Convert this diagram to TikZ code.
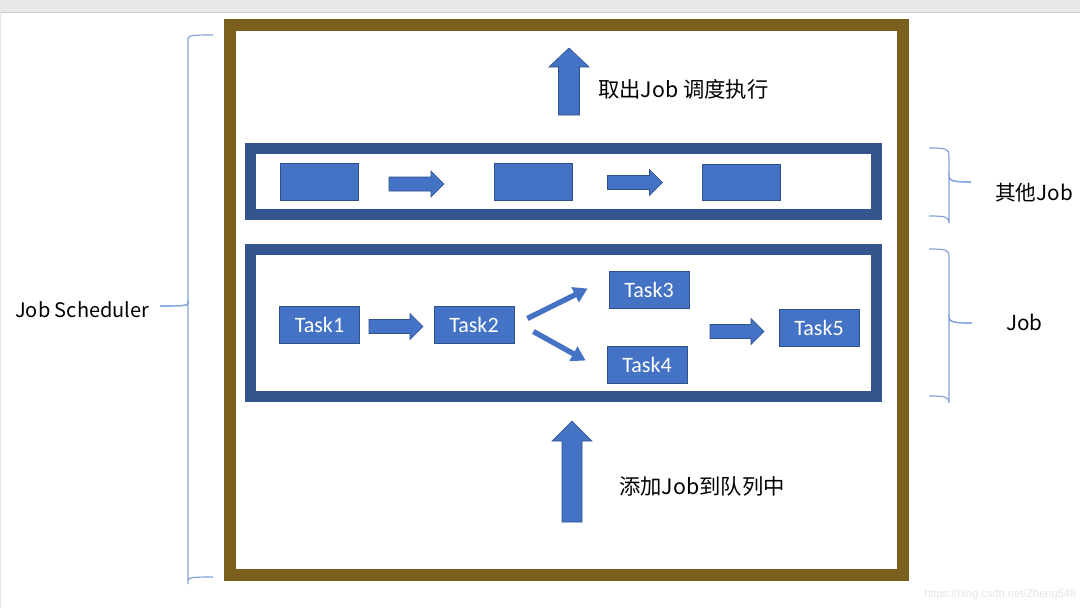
\documentclass[tikz,border=0pt]{standalone}
\usepackage{fontspec}
\setmainfont{Noto Sans CJK SC}
\newfontfamily\taskfont{Carlito}
\newfontfamily\wmfont{Liberation Sans}
\usetikzlibrary{arrows.meta,calc}
\definecolor{brownframe}{RGB}{124,95,31}
\definecolor{darkframe}{RGB}{52,84,142}
\definecolor{boxfill}{RGB}{68,114,196}
\definecolor{boxline}{RGB}{47,82,143}
\definecolor{bracecol}{RGB}{133,163,218}
\definecolor{topgray}{RGB}{232,232,232}
\newcommand\hbarrow[3]{%
  \filldraw[arrowshape] (#1,#3-7) -- (#2-13,#3-7) -- (#2-13,#3-13) -- (#2,#3)
    -- (#2-13,#3+13) -- (#2-13,#3+7) -- (#1,#3+7) -- cycle;}
\newcommand\vbarrow[6]{% cx, ytip, ybottom, shaft half, head half, head len
  \filldraw[arrowshape] (#1,#2) -- (#1+#5,#2+#6) -- (#1+#4,#2+#6) -- (#1+#4,#3)
    -- (#1-#4,#3) -- (#1-#4,#2+#6) -- (#1-#5,#2+#6) -- cycle;}
\newcommand\halfbrace[5]{% xend, xvert, xtip, yend, ymid
  \draw[bracestyle] (#1,#4) .. controls (#2-3,#4) and (#2,#4+1) .. (#2,#4+7)
    -- (#2,#5-6) .. controls (#2,#5-1) and (#2+5,#5) .. (#3,#5);}
\begin{document}
\begin{tikzpicture}[x=0.75pt,y=-0.75pt,
  arrowshape/.style={fill=boxfill,draw=boxline,line width=0.5pt,line join=miter},
  bracestyle/.style={draw=bracecol,line width=0.9pt},
  blk/.style={rectangle,fill=boxfill,draw=boxline,line width=0.6pt,inner sep=0pt},
  emptybox/.style={blk,minimum width=58.5pt,minimum height=27.5pt},
  taskbox/.style={blk,minimum width=60pt,minimum height=27.75pt,text=white,font=\taskfont\fontsize{16.5pt}{18pt}\selectfont},
  rowframe/.style={draw=darkframe,line width=8.25pt},
  diag/.style={draw=boxfill,line width=4pt,-{Triangle[width=12pt,length=10.5pt]}},
  lbl/.style={anchor=west,inner sep=0pt,font=\fontsize{16pt}{18pt}\selectfont}]
\useasboundingbox (0,0) rectangle (1080,608);
\fill[topgray] (0,0) rectangle (1080,608);
\fill[white] (1,12) rectangle (1080,608);
\draw[black!20,line width=0.6pt] (1,12) -- (1080,12);
% outer frame
\draw[brownframe,line width=9pt] (230,25) rectangle (902.5,574.5);
% row frames
\draw[rowframe] (250.5,148.5) rectangle (876.5,214.5);
\draw[rowframe] (250.5,249.5) rectangle (876.5,396);
% row 1 boxes
\node[emptybox] (b1) at (319.5,182) {};
\node[emptybox] (b2) at (533.5,182) {};
\node[emptybox] (b3) at (741,182.5) {};
\hbarrow{389}{444}{184}
\hbarrow{607.5}{662.5}{182.5}
% tasks
\node[taskbox] (t1) at (319.5,324.5) {Task1};
\node[taskbox] (t2) at (474,324.5) {Task2};
\node[taskbox] (t3) at (649,289.5) {Task3};
\node[taskbox] (t4) at (647,364.5) {Task4};
\node[taskbox] (t5) at (819,328) {Task5};
\hbarrow{369}{423}{326.5}
\hbarrow{710}{764}{331.5}
\draw[diag] ($(t2.east)+(13,-6)$) -- ($(t3.west)+(-21,-1)$);
\draw[diag] ($(t2.east)+(19,7)$) -- ($(t4.west)+(-21,-4)$);
% vertical arrows
\vbarrow{569}{48}{115}{10.5}{20}{19}
\vbarrow{572}{421}{522}{10}{20}{20}
\node[lbl] (out) at (598,89) {取出Job 调度执行};
\node[lbl] (in) at (619,486) {添加Job到队列中};
% braces
\halfbrace{929}{949}{971}{148}{182}
\halfbrace{929}{949}{971}{216}{182}
\halfbrace{929}{949}{972}{249}{323}
\halfbrace{929}{949}{972}{396}{323}
\halfbrace{213}{188}{160}{35}{306}
\halfbrace{213}{188}{160}{577}{306}
\node[lbl,font=\fontsize{15pt}{18pt}\selectfont] (sched) at (15,310) {Job Scheduler};
\node[lbl,font=\fontsize{15.5pt}{18pt}\selectfont] (other) at (995,193) {其他Job};
\node[lbl,font=\fontsize{15.5pt}{18pt}\selectfont] (job) at (1006,322) {Job};
\node[anchor=west,inner sep=0pt,text=black!10,font=\wmfont\fontsize{8.3pt}{10pt}\selectfont] (wm) at (924,595) {https://blog.csdn.net/Zheng548};
\end{tikzpicture}
\end{document}
